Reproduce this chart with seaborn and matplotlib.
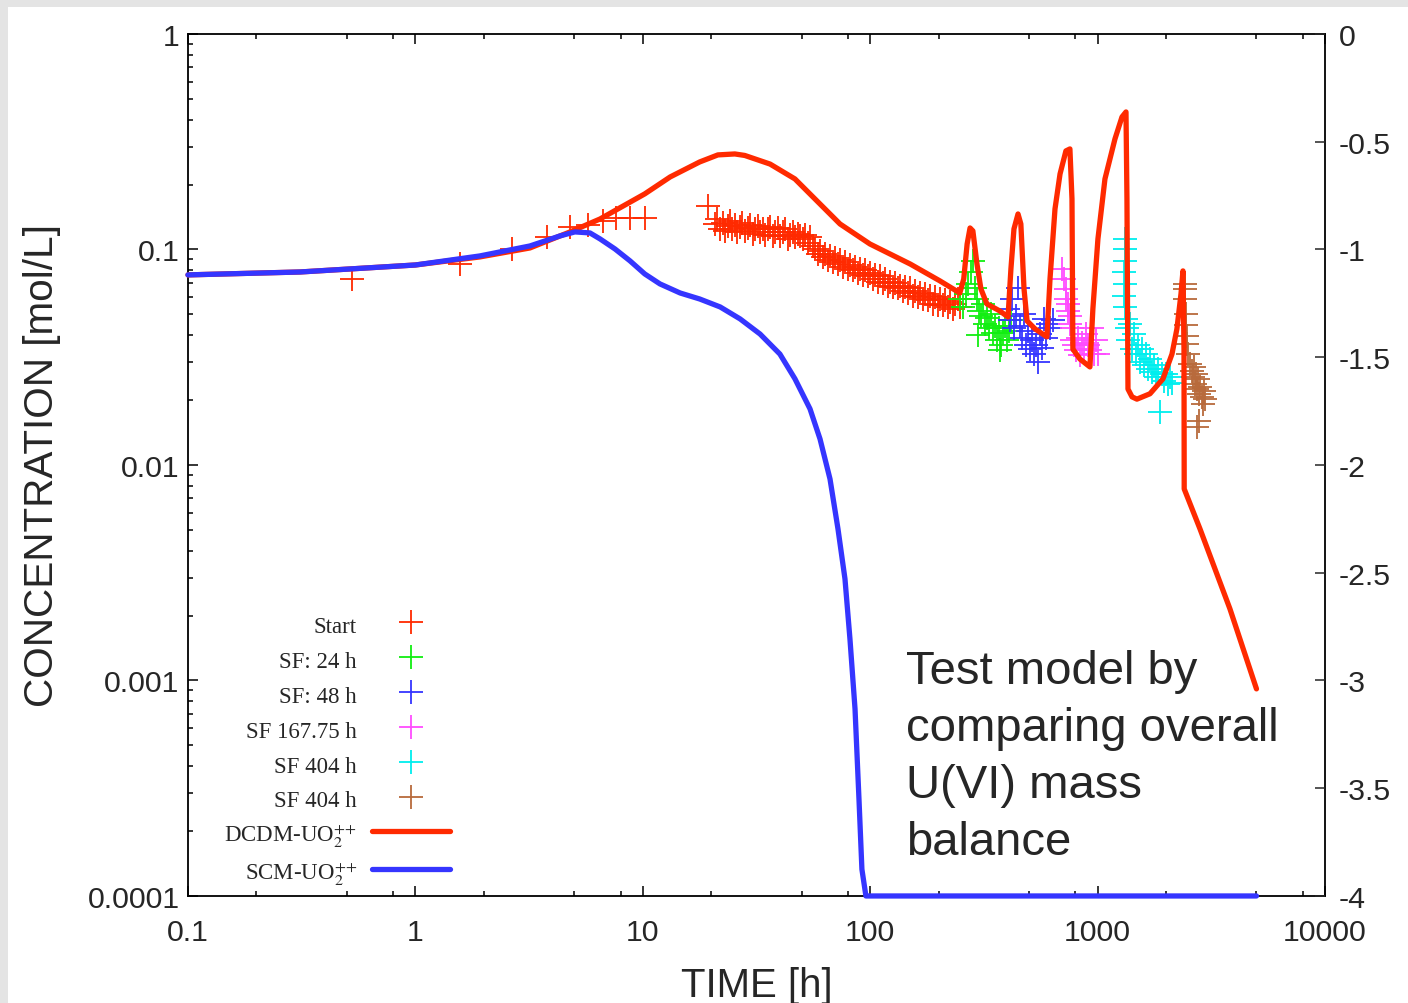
import matplotlib
matplotlib.use("Agg")
import matplotlib.pyplot as plt
import matplotlib.ticker as mticker
from matplotlib.patches import Rectangle
import seaborn as sns

# ---- data ----
start_t = [0.526, 1.57, 2.66, 3.79, 4.79, 5.74, 6.68, 7.62, 8.79, 10.2,
           19.4, 20.8, 21.3, 21.9, 22.5, 23.0, 23.6, 24.2, 24.8, 25.4, 26.0, 26.8, 27.4, 28.1,
           28.9, 29.6, 30.4, 31.1, 32.0, 32.8, 33.8, 34.5, 35.5, 36.3, 37.3, 38.1, 39.2, 40.1,
           41.3, 42.2, 43.4, 44.4, 45.7, 46.7, 48.0, 49.1, 50.6, 51.7, 53.2, 54.4, 56.1, 57.2,
           59.0, 60.2, 62.0, 63.3, 65.2, 66.6, 68.6, 70.0, 72.1, 73.7, 75.9, 77.5, 79.9, 81.5,
           84.0, 85.8, 88.4, 90.2, 93.0, 94.9, 97.8, 99.8, 103, 105, 108, 110, 114, 116, 120,
           122, 126, 129, 133, 135, 140, 142, 147, 150, 154, 157, 163, 166, 171, 174, 180, 183,
           189, 193, 199, 203, 209, 213, 220, 224, 231, 236, 243, 248]
start_c = [0.073, 0.0857, 0.1005, 0.114, 0.127, 0.130, 0.1356, 0.140, 0.140, 0.140,
           0.159, 0.131, 0.139, 0.125, 0.132, 0.122, 0.128, 0.136, 0.125, 0.130, 0.121, 0.127, 0.132, 0.122,
           0.126, 0.130, 0.118, 0.125, 0.128, 0.121, 0.125, 0.117, 0.124, 0.127, 0.116, 0.121, 0.126, 0.115,
           0.120, 0.124, 0.112, 0.117, 0.121, 0.114, 0.118, 0.116, 0.112, 0.117, 0.107, 0.114, 0.104, 0.1005,
           0.095, 0.098, 0.092, 0.095, 0.089, 0.093, 0.087, 0.091, 0.0856, 0.089, 0.083, 0.087, 0.081, 0.085,
           0.080, 0.083, 0.078, 0.081, 0.076, 0.080, 0.075, 0.078, 0.073, 0.076, 0.071, 0.075, 0.070, 0.073, 0.068,
           0.071, 0.067, 0.070, 0.066, 0.068, 0.064, 0.067, 0.063, 0.066, 0.061, 0.064, 0.060, 0.063, 0.059, 0.062, 0.058, 0.061,
           0.056, 0.060, 0.055, 0.059, 0.055, 0.058, 0.054, 0.057, 0.053, 0.056, 0.059, 0.054]

sf24_t = [248, 256, 264, 270, 278, 284, 289, 295, 298, 301, 307, 314, 320, 327, 333, 340,
          347, 354, 361, 368, 372, 376, 384, 392, 400, 408, 416]
sf24_c = [0.059, 0.054, 0.062, 0.069, 0.079, 0.088, 0.066, 0.059, 0.040, 0.052, 0.049, 0.056, 0.045, 0.048, 0.043, 0.050,
          0.041, 0.044, 0.038, 0.043, 0.034, 0.036, 0.041, 0.044, 0.038, 0.042, 0.047]

sf48_t = [404, 412, 421, 430, 438, 447, 456, 466, 475, 485, 494, 504, 515, 526, 536, 547,
          558, 570, 581, 593, 606, 618, 637]
sf48_c = [0.053, 0.047, 0.059, 0.043, 0.049, 0.066, 0.044, 0.039, 0.050, 0.036, 0.042, 0.0345, 0.038, 0.0327, 0.036, 0.030,
          0.0405, 0.035, 0.0476, 0.039, 0.045, 0.043, 0.047]

sf168_t = [697, 711, 726, 726, 741, 741, 756, 756, 772, 772, 788, 804, 821, 837, 854, 871,
           889, 907, 926, 945, 964, 984, 1004]
sf168_c = [0.0812, 0.073, 0.0656, 0.059, 0.056, 0.052, 0.049, 0.045, 0.043, 0.038, 0.036, 0.034, 0.039, 0.0325, 0.037, 0.0345,
           0.0405, 0.036, 0.034, 0.043, 0.0327, 0.038, 0.0327]

sf404a_t = [1320, 1320, 1320, 1307, 1320, 1307, 1320, 1334, 1348, 1361, 1389, 1418, 1447, 1476, 1507, 1537,
            1569, 1601, 1634, 1667, 1701, 1735, 1771, 1807, 1844, 1882, 1920, 1960, 2000, 2040, 2083, 2125]
sf404a_c = [0.112, 0.1005, 0.088, 0.079, 0.069, 0.061, 0.054, 0.0476, 0.043, 0.038, 0.045, 0.0345, 0.0405, 0.0327, 0.036, 0.030,
            0.0345, 0.029, 0.0327, 0.0279, 0.031, 0.027, 0.029, 0.0256, 0.0279, 0.0177, 0.0264, 0.0245, 0.0264, 0.0238, 0.0256, 0.0241]

sf404b_t = [2424, 2424, 2424, 2450, 2450, 2475, 2475, 2500, 2550, 2603, 2630, 2657, 2683, 2710, 2738, 2766,
            2794, 2822, 2880, 2910, 2940, 2969, 2738, 2794]
sf404b_c = [0.0692, 0.0656, 0.059, 0.050, 0.0445, 0.0397, 0.0364, 0.0327, 0.0294, 0.0272, 0.0256, 0.0285, 0.0238, 0.0264, 0.0225, 0.0251,
            0.0214, 0.0230, 0.0207, 0.0192, 0.0220, 0.0202, 0.0150, 0.0160]

dcdm_t = [0.1, 0.311, 1.0, 1.92, 3.19, 4.79, 6.49, 10.2, 13.2, 17.8, 21.4, 25.4, 28.1, 36.3, 46.7, 57.2, 73.7, 99.8,
          150, 203, 248, 258, 267, 275, 283, 295, 307, 326, 372, 404, 416, 429, 447, 460, 475, 490,
          531, 599, 618, 650, 684, 726, 756, 772, 779, 837, 926, 954, 1004, 1078, 1193, 1281, 1334,
          1347, 1361, 1418, 1490, 1701, 1940, 2125, 2234, 2328, 2375, 2400, 2405, 2822, 3821, 5000]
dcdm_c = [0.0762, 0.0786, 0.0847, 0.0923, 0.1016, 0.1206, 0.1385, 0.181, 0.217, 0.2547, 0.2746, 0.2774, 0.2730, 0.249, 0.2124, 0.1715, 0.1313, 0.106,
          0.0856, 0.0714, 0.0628, 0.0730, 0.106, 0.1258, 0.1219, 0.0856, 0.0656, 0.0559, 0.0518, 0.0486, 0.0812, 0.1245, 0.1461, 0.1313, 0.0656, 0.0466,
          0.0428, 0.0393, 0.0730, 0.1541, 0.224, 0.2866, 0.2927, 0.1715, 0.0345, 0.0310, 0.0285, 0.0530, 0.1119, 0.2124, 0.3257, 0.412, 0.4345,
          0.1715, 0.0225, 0.0207, 0.0202, 0.0214, 0.0251, 0.0327, 0.0428, 0.0622, 0.0795, 0.0345, 0.00774, 0.00505, 0.00215, 0.000914]

scm_t = [0.1, 0.311, 1.0, 1.92, 3.19, 4.32, 5.03, 5.86, 6.49, 7.55, 8.79, 10.2, 11.9, 14.6, 17.8, 21.9,
         26.8, 32.8, 40.1, 46.7, 54.4, 60.2, 66.6, 72.2, 77.5, 81.5, 85.8, 89.3, 92.0, 95.8, 5000]
scm_c = [0.0762, 0.0786, 0.0847, 0.0933, 0.1038, 0.1155, 0.1206, 0.1193, 0.1119, 0.1005, 0.0885, 0.0770, 0.0692, 0.0628, 0.0589, 0.0541,
         0.0476, 0.0405, 0.0327, 0.0251, 0.0182, 0.0132, 0.00861, 0.00505, 0.00296, 0.00156, 0.000738, 0.000282, 0.000133, 0.0001, 0.0001]

x_ticks = [0.1, 1, 10, 100, 1000, 10000]
y_ticks = [0.0001, 0.001, 0.01, 0.1, 1]
right_ticks = [0, -0.5, -1, -1.5, -2, -2.5, -3, -3.5, -4]

sns.set_style("ticks")
plt.rcParams['font.family'] = ['Liberation Sans', 'DejaVu Sans']
plt.rcParams['mathtext.fontset'] = 'stix'
plt.rcParams['axes.unicode_minus'] = False

fig = plt.figure(figsize=(14.08, 10.04), dpi=100, facecolor='#e4e4e4')
fig.patches.append(Rectangle((8 / 1408, 0), 1, 1 - 8 / 1004, transform=fig.transFigure,
                             facecolor='white', edgecolor='none', zorder=-5))
ax = fig.add_axes([0.1335, 0.1066, 0.8075, 0.8586])

cross = dict(marker='+', s=320, linewidth=1.3, ax=ax, zorder=2.2)
sns.scatterplot(x=start_t, y=start_c, color='#ff2a00', label='Start', **cross)
sns.scatterplot(x=sf24_t, y=sf24_c, color='#11ee11', label='SF: 24 h', **cross)
sns.scatterplot(x=sf48_t, y=sf48_c, color='#3535ff', label='SF: 48 h', **cross)
sns.scatterplot(x=sf168_t, y=sf168_c, color='#ff4cff', label='SF 167.75 h', **cross)
sns.scatterplot(x=sf404a_t, y=sf404a_c, color='#00eeee', label='SF 404 h', **cross)
sns.scatterplot(x=sf404b_t, y=sf404b_c, color='#b86a3c', label='SF 404 h', **cross)

sns.lineplot(x=dcdm_t, y=dcdm_c, color='#ff2a00', linewidth=3.8, sort=False, estimator=None,
             label=r'DCDM-UO$_2^{{+}{+}}$', ax=ax, zorder=3, clip_on=False)
sns.lineplot(x=scm_t, y=scm_c, color='#3535ff', linewidth=3.8, sort=False, estimator=None,
             label=r'SCM-UO$_2^{{+}{+}}$', ax=ax, zorder=3.1, clip_on=False)

ax.set_xscale('log')
ax.set_yscale('log')
ax.set_xlim(0.1, 10000)
ax.set_ylim(0.0001, 1)
ax.set_xticks(x_ticks)
ax.set_yticks(y_ticks)
fmt = mticker.FuncFormatter(lambda v, p: f"{v:g}")
ax.xaxis.set_major_formatter(fmt)
ax.yaxis.set_major_formatter(fmt)
ax.xaxis.set_minor_locator(mticker.LogLocator(base=10, subs=[2, 5, 8], numticks=20))
ax.yaxis.set_minor_locator(mticker.LogLocator(base=10, subs=[2, 3, 4, 5, 6, 7, 8, 9], numticks=20))
ax.xaxis.set_minor_formatter(mticker.NullFormatter())
ax.yaxis.set_minor_formatter(mticker.NullFormatter())
ax.tick_params(which='both', direction='in', top=True, right=False, width=1.1, color='black')
ax.tick_params(which='major', length=7.5, labelsize=21.8)
ax.tick_params(which='minor', length=3.8)
ax.tick_params(axis='x', which='major', pad=16)
ax.tick_params(axis='y', which='major', pad=6)
for s in ax.spines.values():
    s.set_visible(True)
    s.set_linewidth(1.3)
    s.set_color('black')

ax.set_xlabel('TIME [h]', fontsize=29, labelpad=14)
ax.set_ylabel('CONCENTRATION [mol/L]', fontsize=29.2, labelpad=19)

ax2 = ax.twinx()
ax2.set_ylim(-4, 0)
ax2.set_yticks(right_ticks)
ax2.yaxis.set_major_formatter(fmt)
ax2.tick_params(axis='y', direction='in', length=7.5, width=1.1, labelsize=21.8, pad=10)
for s in ax2.spines.values():
    s.set_visible(False)

ax.text(0.6315, 0.287, "Test model by\ncomparing overall\nU(VI) mass\nbalance",
        transform=ax.transAxes, fontsize=34, va='top', ha='left', linespacing=1.39)

ax.legend(loc='upper right', bbox_to_anchor=(0.2304, 0.33), frameon=False, markerfirst=False,
          handlelength=3.4, handletextpad=0.65, handleheight=1.35, labelspacing=0.40,
          borderpad=0, borderaxespad=0,
          prop={'family': 'Liberation Serif', 'size': 16.5}, scatterpoints=1)

fig.savefig('out.png', dpi=100, facecolor=fig.get_facecolor())
